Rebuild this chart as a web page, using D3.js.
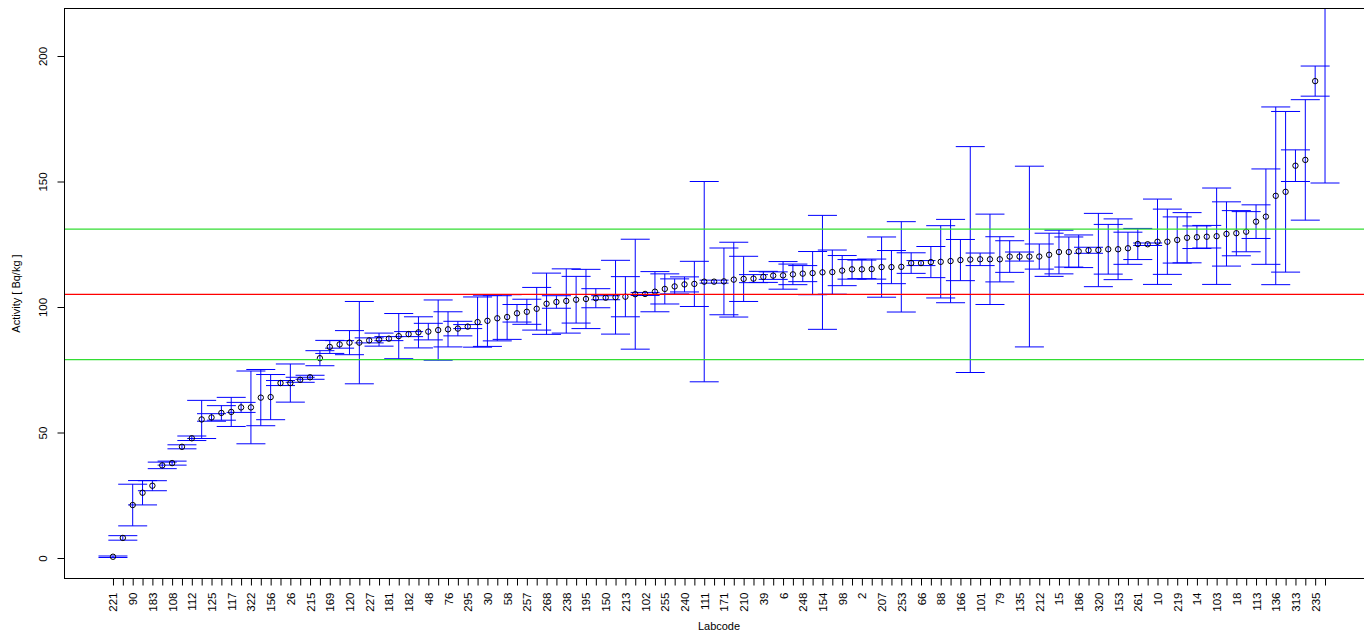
<!DOCTYPE html>
<html>
<head>
<meta charset="utf-8">
<script src="https://cdn.jsdelivr.net/npm/d3@7"></script>
<style>
  html, body { margin: 0; padding: 0; background: #fff; }
  svg { display: block; font-family: "Liberation Sans", Arial, Helvetica, sans-serif; }
</style>
</head>
<body>
<svg id="chart" width="1364" height="632"></svg>
<script>
// ---- data ----
// Labcodes printed under the axis (every other point carries a visible label)
const shownLabels = ["221","90","183","108","112","125","117","322","156","26","215","169","120","227","181","182","48","76","295","30","58","257","268","238","195","150","213","102","255","240","111","171","210","39","6","248","154","98","2","207","253","66","88","166","101","79","135","212","15","186","320","153","261","10","219","14","103","18","113","136","313","235"];

// Activity values [Bq/kg], sorted ascending
const values = [
  0.5, 8.0, 21.1, 26.0, 28.8, 36.9, 37.8, 44.3, 47.7, 55.2,
  56.0, 57.8, 58.2, 60.0, 60.0, 63.9, 64.1, 69.7, 69.7, 71.0,
  72.0, 79.6, 84.1, 85.1, 85.8, 85.8, 86.7, 87.0, 87.4, 88.4,
  89.2, 89.9, 90.2, 90.8, 91.1, 91.4, 92.2, 94.0, 94.5, 95.5,
  96.0, 97.5, 98.1, 99.3, 101.3, 102.0, 102.4, 102.9, 103.2, 103.5,
  103.7, 103.9, 104.1, 105.1, 105.2, 106.1, 107.2, 108.2, 109.0, 109.2,
  110.1, 110.1, 110.2, 110.9, 111.2, 111.3, 112.0, 112.5, 112.6, 113.0,
  113.3, 113.5, 113.8, 113.9, 114.5, 115.0, 115.0, 115.1, 115.9, 115.9,
  116.0, 117.5, 117.5, 117.9, 118.0, 118.3, 118.7, 118.9, 119.0, 119.0,
  119.0, 120.1, 120.1, 120.1, 120.1, 120.8, 121.9, 121.9, 122.2, 122.6,
  122.7, 123.0, 123.0, 123.4, 125.1, 125.0, 126.0, 126.0, 126.7, 127.6,
  127.8, 128.0, 128.2, 129.1, 129.4, 130.0, 134.0, 136.0, 144.3, 145.9,
  156.3, 158.6, 190.0, 230.0
];

// Reported uncertainties [Bq/kg]
const errors = [
  0.3, 0.9, 8.3, 4.85, 2.0, 1.3, 0.8, 0.8, 0.9, 7.6,
  1.5, 2.9, 5.8, 2.0, 14.5, 11.2, 9.0, 1.0, 7.6, 1.0,
  0.8, 3.0, 2.6, 1.5, 4.8, 16.4, 1.0, 2.6, 0.8, 9.0,
  1.0, 6.2, 3.3, 12.0, 7.0, 2.9, 0.8, 10.0, 10.2, 9.0,
  8.9, 3.5, 5.0, 8.5, 12.2, 2.5, 12.8, 9.3, 11.8, 3.8,
  0.8, 14.7, 8.0, 21.9, 0.6, 8.0, 6.0, 3.0, 3.0, 9.0,
  39.9, 0.6, 13.3, 14.9, 9.0, 1.6, 2.2, 1.5, 5.5, 4.1,
  3.2, 8.6, 22.7, 8.8, 6.0, 3.9, 3.7, 4.0, 12.0, 6.6,
  18.0, 4.1, 1.0, 6.2, 14.4, 16.6, 8.2, 45.0, 2.5, 18.0,
  9.0, 6.3, 1.8, 36.0, 5.0, 8.6, 8.7, 6.0, 6.5, 1.2,
  14.6, 9.9, 12.1, 6.4, 6.2, 0.5, 17.0, 13.0, 9.2, 10.0,
  4.5, 4.5, 19.2, 12.8, 9.0, 8.0, 6.7, 19.0, 35.4, 32.0,
  6.3, 24.0, 6.0, 80.6
];

const refValue = 105;     // red line
const refLimits = [79, 131]; // green lines
const yTicks = [0, 50, 100, 150, 200];

// ---- layout ----
const svg = d3.select("#chart");
const plotL = 64.5, plotR = 1373.5, plotT = 8.5, plotB = 578.5;
const n = values.length;
const pad = (n - 1) * 0.04;

const x = d3.scaleLinear().domain([1 - pad, n + pad]).range([plotL, plotR]);
const y = d3.scaleLinear().domain([0, 200]).range([558, 56]);

const data = values.map((v, i) => ({ i: i + 1, v, e: errors[i] }));

svg.append("defs").append("clipPath").attr("id", "plotclip")
  .append("rect").attr("x", plotL).attr("y", plotT)
  .attr("width", plotR - plotL).attr("height", plotB - plotT);

const plot = svg.append("g").attr("clip-path", "url(#plotclip)");

// error bars
const capHalf = 14.5;
const bars = plot.append("g").attr("stroke", "#0000ff").attr("stroke-width", 1).attr("fill", "none");
data.forEach(d => {
  const cx = x(d.i), y1 = y(d.v - d.e), y2 = y(d.v + d.e);
  bars.append("line").attr("x1", cx).attr("x2", cx).attr("y1", y1).attr("y2", y2);
  bars.append("line").attr("x1", cx - capHalf).attr("x2", cx + capHalf).attr("y1", y1).attr("y2", y1);
  bars.append("line").attr("x1", cx - capHalf).attr("x2", cx + capHalf).attr("y1", y2).attr("y2", y2);
});

// points
plot.append("g").selectAll("circle").data(data).join("circle")
  .attr("cx", d => x(d.i)).attr("cy", d => y(d.v)).attr("r", 2.7)
  .attr("fill", "none").attr("stroke", "#000").attr("stroke-width", 1);

// reference lines
plot.append("line").attr("x1", plotL).attr("x2", plotR)
  .attr("y1", y(refValue)).attr("y2", y(refValue))
  .attr("stroke", "#ff0000").attr("stroke-width", 1.2);
refLimits.forEach(v => {
  plot.append("line").attr("x1", plotL).attr("x2", plotR)
    .attr("y1", y(v)).attr("y2", y(v))
    .attr("stroke", "#33dd33").attr("stroke-width", 1.2);
});

// box
svg.append("rect").attr("x", plotL).attr("y", plotT)
  .attr("width", plotR - plotL).attr("height", plotB - plotT)
  .attr("fill", "none").attr("stroke", "#000").attr("stroke-width", 1);

// y axis
const yAxis = d3.axisLeft(y).tickValues(yTicks).tickSize(7).tickFormat(d3.format("d"));
const gy = svg.append("g").attr("transform", `translate(${plotL},0)`).call(yAxis);
gy.select(".domain").remove();
gy.selectAll(".tick line").attr("stroke", "#000");
gy.selectAll(".tick text")
  .attr("x", null).attr("dy", null)
  .attr("transform", "translate(-18,0) rotate(-90)")
  .attr("text-anchor", "middle")
  .attr("font-size", 11.5).attr("fill", "#000")
  .attr("font-family", "Liberation Sans, Arial, sans-serif");

// x axis
const idx = d3.range(1, n + 1);
const xAxis = d3.axisBottom(x).tickValues(idx).tickSize(7)
  .tickFormat(i => (i % 2 === 1 ? shownLabels[(i - 1) / 2] || "" : ""));
const gx = svg.append("g").attr("transform", `translate(0,${plotB})`).call(xAxis);
gx.select(".domain")
  .attr("d", `M${x(1)},0H${x(n)}`).attr("stroke", "#000");
gx.selectAll(".tick line").attr("stroke", "#000");
gx.selectAll(".tick text")
  .attr("y", null).attr("dy", null)
  .attr("transform", "translate(4,14) rotate(-90)")
  .attr("text-anchor", "end")
  .attr("font-size", 11.5).attr("fill", "#000")
  .attr("font-family", "Liberation Sans, Arial, sans-serif");

// axis titles
svg.append("text").attr("x", (plotL + plotR) / 2).attr("y", 630)
  .attr("text-anchor", "middle").attr("font-size", 11).text("Labcode");
svg.append("text").attr("transform", `translate(20,${(plotT + plotB) / 2}) rotate(-90)`)
  .attr("text-anchor", "middle").attr("font-size", 11).text("Activity [ Bq/kg ]");
</script>
</body>
</html>
